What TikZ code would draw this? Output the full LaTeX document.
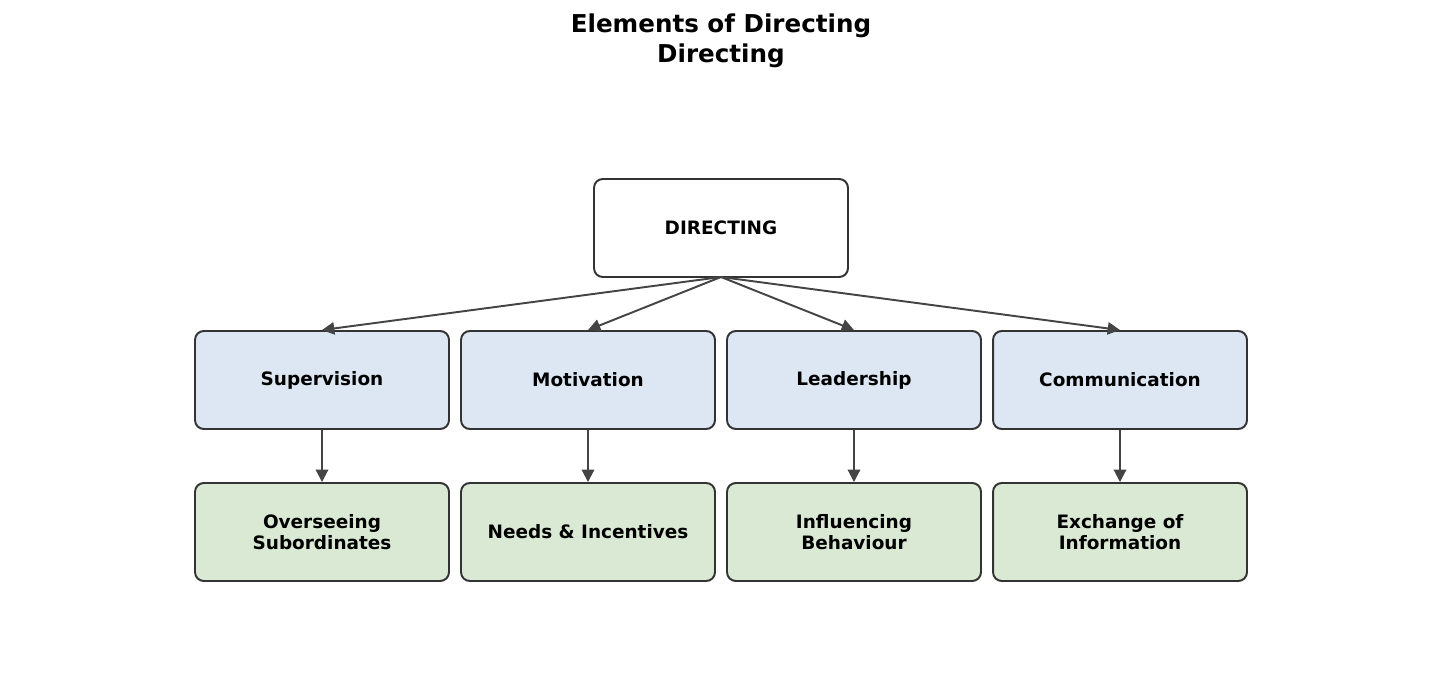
\documentclass[tikz,border=0pt]{standalone}
\usepackage{fontspec}
\setmainfont{DejaVu Sans}
\usetikzlibrary{arrows.meta}
\usetikzlibrary{calc}
\definecolor{edgegray}{HTML}{333333}
\definecolor{arrowgray}{HTML}{444444}
\definecolor{midblue}{HTML}{DCE7F3}
\definecolor{lowgreen}{HTML}{D9E9D3}
\tikzset{
	box/.style={draw=edgegray, line width=1.1pt, rounded corners=5pt, minimum width=5.08cm, minimum height=1.96cm, align=center, font=\bfseries\fontsize{10.5}{12}\selectfont},
	link/.style={draw=arrowgray, line width=1.1pt, -{Triangle[length=7pt,width=7pt]}}
}
\begin{document}
\begin{tikzpicture}[x=0.02cm, y=-0.02cm]
	\useasboundingbox (0, 0) rectangle (1441, 699);
	\node[font=\bfseries\fontsize{14}{17}\selectfont, align=center] (title) at (721, 41) {Elements of Directing\\Directing};

	\node[box, fill=white] (dir) at (721, 228) {DIRECTING};

	\node[box, fill=midblue] (sup) at (322, 380) {Supervision};
	\node[box, fill=midblue] (mot) at (588, 380) {Motivation};
	\node[box, fill=midblue] (lea) at (854, 380) {Leadership};
	\node[box, fill=midblue] (com) at (1120, 380) {Communication};

	\node[box, fill=lowgreen] (ove) at (322, 532) {Overseeing\\Subordinates};
	\node[box, fill=lowgreen] (nee) at (588, 532) {Needs \& Incentives};
	\node[box, fill=lowgreen] (inf) at (854, 532) {Influencing\\Behaviour};
	\node[box, fill=lowgreen] (exc) at (1120, 532) {Exchange of\\Information};

	\coordinate (root) at (721, 277);
	\foreach \m/\b in {sup/ove, mot/nee, lea/inf, com/exc} {
		\draw[link] (root) -- (\m.north);
		\draw[link] (\m) -- (\b);
	}
\end{tikzpicture}
\end{document}
